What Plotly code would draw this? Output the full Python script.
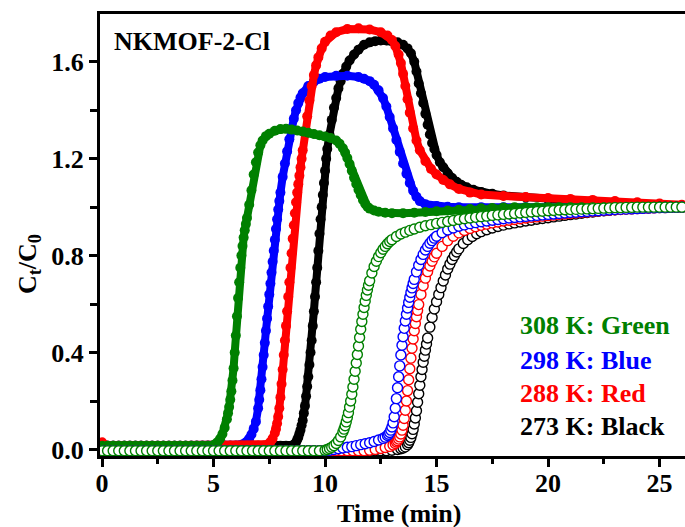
import plotly.graph_objects as go

# ---------------- data ----------------
# Filled circles (first breakthrough component, roll-up), time in min, C/C0
filled_308_t = [0, 0.25, 0.5, 0.75, 1.0, 1.25, 1.5, 1.75, 2.0, 2.25, 2.5, 2.75, 3.0, 3.25, 3.5, 3.75, 4.0, 4.25, 4.5, 4.75,
                5.0, 5.1, 5.2, 5.3, 5.4, 5.5, 5.6, 5.65, 5.7, 5.75, 5.8, 5.85, 5.9, 5.95, 6.0, 6.05, 6.1, 6.15, 6.2, 6.25, 6.3, 6.35, 6.4, 6.45, 6.5,
                6.6, 6.7, 6.8, 6.9, 7.0, 7.1, 7.2, 7.35, 7.5, 7.75,
                8.0, 8.25, 8.5, 8.75, 9.0, 9.25, 9.5, 9.75, 10.0, 10.25,
                10.5, 10.65, 10.8, 10.9, 11.0, 11.1, 11.2, 11.3, 11.4, 11.5,
                11.6, 11.7, 11.8, 11.9, 12.0, 12.2, 12.4, 12.7, 13.0, 13.5,
                14.0, 14.5, 15.0, 15.5, 16.0, 16.5, 17.0, 17.5, 18.0, 18.5,
                19.0, 19.5, 20.0, 20.5, 21.0, 21.5, 22.0, 22.5, 23.0, 23.5,
                24.0, 24.5, 25.0, 25.5, 26.0]
filled_308_c = [0.015, 0.015, 0.015, 0.015, 0.015, 0.015, 0.015, 0.015, 0.015, 0.015, 0.015, 0.015, 0.015, 0.015, 0.015, 0.015, 0.015, 0.015, 0.015, 0.015,
                0.018, 0.024, 0.032, 0.045, 0.064, 0.09, 0.125, 0.15, 0.175, 0.205, 0.24, 0.285, 0.335, 0.40, 0.47, 0.55, 0.625, 0.69, 0.75, 0.80, 0.84, 0.875, 0.905, 0.93, 0.955,
                1.01, 1.07, 1.135, 1.185, 1.225, 1.255, 1.275, 1.293, 1.303, 1.315,
                1.322, 1.323, 1.32, 1.316, 1.312, 1.307, 1.302, 1.297, 1.292, 1.285,
                1.275, 1.262, 1.243, 1.225, 1.203, 1.178, 1.15, 1.122, 1.096, 1.072,
                1.05, 1.03, 1.014, 1.002, 0.994, 0.986, 0.981, 0.977, 0.975, 0.975,
                0.977, 0.98, 0.983, 0.986, 0.989, 0.992, 0.995, 0.997, 0.999, 1.0,
                1.0, 1.0, 1.0, 1.0, 1.0, 1.0, 1.0, 1.0, 1.0, 1.0,
                1.0, 1.0, 1.0, 1.0, 1.0]

filled_298_t = [0, 0.25, 0.5, 0.75, 1.0, 1.25, 1.5, 1.75, 2.0, 2.25, 2.5, 2.75, 3.0, 3.25, 3.5, 3.75, 4.0, 4.25, 4.5, 4.75, 5.0, 5.25, 5.5, 5.75, 6.0,
                6.1, 6.2, 6.3, 6.4, 6.5, 6.6, 6.7, 6.8, 6.9, 7.0,
                7.05, 7.1, 7.15, 7.2, 7.25, 7.3, 7.35, 7.4, 7.45, 7.5,
                7.55, 7.6, 7.65, 7.7, 7.75, 7.8, 7.85, 7.9, 7.95, 8.0,
                8.1, 8.2, 8.3, 8.4, 8.5, 8.6, 8.7, 8.8, 8.9, 9.0,
                9.25, 9.5, 9.75, 10.0, 10.5, 11.0, 11.5, 11.75, 12.0, 12.2,
                12.4, 12.6, 12.75, 12.9, 13.05, 13.2, 13.35, 13.5, 13.65, 13.8,
                13.95, 14.1, 14.25, 14.5, 15.0, 15.5, 16.0, 17.0, 18.0, 19.0,
                20.0, 21.0, 22.0, 23.0, 24.0, 25.0, 26.0]
filled_298_c = [0.015, 0.015, 0.015, 0.015, 0.015, 0.015, 0.015, 0.015, 0.015, 0.015, 0.015, 0.015, 0.015, 0.015, 0.015, 0.015, 0.015, 0.015, 0.015, 0.015, 0.015, 0.015, 0.015, 0.015, 0.015,
                0.016, 0.018, 0.021, 0.026, 0.033, 0.045, 0.062, 0.085, 0.115, 0.17,
                0.205, 0.245, 0.29, 0.34, 0.39, 0.44, 0.49, 0.54, 0.59, 0.64,
                0.685, 0.73, 0.775, 0.82, 0.865, 0.91, 0.95, 0.99, 1.025, 1.06,
                1.125, 1.18, 1.23, 1.28, 1.325, 1.365, 1.40, 1.43, 1.452, 1.47,
                1.50, 1.518, 1.53, 1.537, 1.542, 1.542, 1.537, 1.53, 1.52, 1.505,
                1.482, 1.45, 1.415, 1.372, 1.325, 1.277, 1.228, 1.18, 1.138, 1.10,
                1.068, 1.043, 1.025, 1.012, 1.005, 1.002, 1.0, 1.0, 1.0, 1.0,
                1.0, 1.0, 1.0, 1.0, 1.0, 1.0, 1.0]

filled_288_t = [0, 0.25, 0.5, 0.75, 1.0, 1.25, 1.5, 1.75, 2.0, 2.25, 2.5, 2.75, 3.0, 3.25, 3.5, 3.75, 4.0, 4.25, 4.5, 4.75, 5.0, 5.25, 5.5, 5.75, 6.0, 6.25, 6.5, 6.75, 7.0, 7.25,
                7.35, 7.45, 7.55, 7.65, 7.75, 7.8, 7.85, 7.9, 7.95, 8.0,
                8.05, 8.1, 8.15, 8.2, 8.25, 8.3, 8.35, 8.4, 8.45, 8.5,
                8.55, 8.6, 8.65, 8.7, 8.75, 8.8, 8.85, 8.9, 8.95, 9.0,
                9.1, 9.2, 9.3, 9.4, 9.5, 9.6, 9.7, 9.85, 10.0, 10.25,
                10.5, 11.0, 11.5, 12.0, 12.5, 12.8, 13.0, 13.15, 13.3, 13.4,
                13.5, 13.6, 13.7, 13.8, 13.95, 14.1, 14.25, 14.5, 14.75, 15.0,
                15.3, 15.6, 16.0, 16.5, 17.0, 18.0, 19.0, 20.0, 21.0, 22.0,
                23.0, 24.0, 25.0, 26.0]
filled_288_c = [0.03, 0.015, 0.015, 0.015, 0.015, 0.015, 0.015, 0.015, 0.015, 0.015, 0.015, 0.015, 0.015, 0.015, 0.015, 0.015, 0.015, 0.015, 0.015, 0.015, 0.015, 0.015, 0.015, 0.015, 0.015, 0.015, 0.015, 0.015, 0.015, 0.015,
                0.017, 0.022, 0.031, 0.045, 0.068, 0.085, 0.107, 0.135, 0.17, 0.215,
                0.27, 0.33, 0.39, 0.45, 0.51, 0.57, 0.63, 0.69, 0.75, 0.81,
                0.87, 0.925, 0.975, 1.02, 1.06, 1.095, 1.13, 1.165, 1.20, 1.235,
                1.305, 1.375, 1.44, 1.50, 1.545, 1.585, 1.618, 1.655, 1.682, 1.708,
                1.722, 1.735, 1.738, 1.733, 1.722, 1.708, 1.69, 1.665, 1.63, 1.595,
                1.55, 1.50, 1.445, 1.39, 1.325, 1.275, 1.235, 1.19, 1.158, 1.135,
                1.112, 1.094, 1.075, 1.06, 1.052, 1.046, 1.042, 1.038, 1.034, 1.03,
                1.025, 1.02, 1.015, 1.01]

filled_273_t = [0, 0.25, 0.5, 0.75, 1.0, 1.25, 1.5, 1.75, 2.0, 2.25, 2.5, 2.75, 3.0, 3.25, 3.5, 3.75, 4.0, 4.25, 4.5, 4.75, 5.0, 5.25, 5.5, 5.75, 6.0, 6.25, 6.5, 6.75, 7.0, 7.25, 7.5, 7.75, 8.0, 8.25, 8.5,
                8.6, 8.7, 8.75, 8.8, 8.85, 8.9, 8.95, 9.0, 9.05, 9.1,
                9.15, 9.2, 9.25, 9.3, 9.35, 9.4, 9.45, 9.5, 9.55, 9.6,
                9.65, 9.7, 9.75, 9.8, 9.85, 9.9, 9.95, 10.0, 10.05, 10.1,
                10.2, 10.3, 10.4, 10.5, 10.6, 10.7, 10.8, 10.95, 11.1, 11.3,
                11.5, 11.75, 12.0, 12.25, 12.5, 12.75, 13.0, 13.25, 13.5, 13.7,
                13.85, 14.0, 14.1, 14.2, 14.3, 14.4, 14.5, 14.6, 14.7, 14.8,
                14.9, 15.0, 15.15, 15.3, 15.5, 15.7, 15.9, 16.1, 16.35, 16.65,
                17.0, 17.5, 18.0, 19.0, 20.0, 21.0, 22.0, 23.0, 24.0, 25.0,
                26.0]
filled_273_c = [0.015, 0.015, 0.015, 0.015, 0.015, 0.015, 0.015, 0.015, 0.015, 0.015, 0.015, 0.015, 0.015, 0.015, 0.015, 0.015, 0.015, 0.015, 0.015, 0.015, 0.015, 0.015, 0.015, 0.015, 0.015, 0.015, 0.015, 0.015, 0.015, 0.015, 0.015, 0.015, 0.015, 0.015, 0.015,
                0.02, 0.03, 0.04, 0.05, 0.065, 0.08, 0.10, 0.12, 0.15, 0.18,
                0.22, 0.26, 0.30, 0.35, 0.40, 0.45, 0.51, 0.57, 0.63, 0.69,
                0.75, 0.82, 0.89, 0.95, 1.00, 1.05, 1.10, 1.15, 1.20, 1.24,
                1.30, 1.36, 1.41, 1.45, 1.49, 1.52, 1.55, 1.58, 1.605, 1.63,
                1.65, 1.67, 1.68, 1.685, 1.688, 1.688, 1.685, 1.68, 1.67, 1.655,
                1.635, 1.60, 1.56, 1.51, 1.47, 1.43, 1.385, 1.34, 1.30, 1.265,
                1.24, 1.215, 1.185, 1.165, 1.14, 1.12, 1.105, 1.092, 1.082, 1.072,
                1.063, 1.055, 1.048, 1.04, 1.033, 1.028, 1.022, 1.017, 1.012, 1.008,
                1.005]

# Open circles (second component)
open_308_t = [0, 0.25, 0.5, 0.75, 1.0, 1.25, 1.5, 1.75, 2.0, 2.25, 2.5, 2.75, 3.0, 3.25, 3.5, 3.75, 4.0, 4.25, 4.5, 4.75,
              5.0, 5.25, 5.5, 5.75, 6.0, 6.25, 6.5, 6.75, 7.0, 7.25, 7.5, 7.75, 8.0, 8.25, 8.5, 8.75, 9.0, 9.25, 9.5, 9.75,
              10.0, 10.1, 10.2, 10.3, 10.4, 10.5, 10.6, 10.7, 10.8, 10.85,
              10.9, 10.95, 11.0, 11.05, 11.1, 11.15, 11.2, 11.25, 11.3, 11.35,
              11.4, 11.45, 11.5, 11.55, 11.6, 11.65, 11.7, 11.75, 11.8, 11.85,
              11.9, 11.95, 12.0, 12.1, 12.2, 12.3, 12.4, 12.5, 12.6, 12.7,
              12.8, 12.9, 13.0, 13.2, 13.4, 13.6, 13.8, 14.0, 14.25, 14.5,
              14.75, 15.0, 15.25, 15.5, 15.75, 16.0, 16.25, 16.5, 16.75, 17.0, 17.25, 17.5, 17.75, 18.0, 18.25, 18.5, 18.75, 19.0, 19.25, 19.5, 19.75, 20.0,
              20.25, 20.5, 20.75, 21.0, 21.25, 21.5, 21.75, 22.0, 22.25, 22.5, 22.75, 23.0, 23.25, 23.5, 23.75, 24.0, 24.25, 24.5, 24.75, 25.0, 25.25, 25.5, 25.75, 26.0]
open_308_c = [-0.005, -0.005, -0.005, -0.005, -0.005, -0.005, -0.005, -0.005, -0.005, -0.005, -0.005, -0.005, -0.005, -0.005, -0.005, -0.005, -0.005, -0.005, -0.005, -0.005,
              -0.005, -0.005, -0.005, -0.005, -0.005, -0.005, -0.005, -0.005, -0.005, -0.005, -0.005, -0.005, -0.005, -0.005, -0.005, -0.005, -0.005, -0.005, -0.005, -0.005,
              -0.003, 0.0, 0.004, 0.009, 0.016, 0.025, 0.037, 0.052, 0.072, 0.084,
              0.098, 0.114, 0.132, 0.152, 0.175, 0.20, 0.228, 0.258, 0.29, 0.323,
              0.357, 0.392, 0.427, 0.462, 0.496, 0.528, 0.558, 0.586, 0.612, 0.636,
              0.658, 0.678, 0.696, 0.728, 0.755, 0.777, 0.796, 0.812, 0.826, 0.838,
              0.849, 0.858, 0.866, 0.879, 0.889, 0.897, 0.904, 0.91, 0.917, 0.923,
              0.928, 0.933, 0.937, 0.941, 0.945, 0.949, 0.952, 0.955, 0.958, 0.961, 0.963, 0.966, 0.968, 0.97, 0.972, 0.974, 0.976, 0.978, 0.98, 0.982, 0.983, 0.985,
              0.986, 0.988, 0.989, 0.99, 0.991, 0.992, 0.993, 0.994, 0.995, 0.996, 0.997, 0.998, 0.998, 0.999, 0.999, 1.0, 1.0, 1.0, 1.0, 1.0, 1.0, 1.0, 1.0, 1.0]

open_298_t = [0, 0.25, 0.5, 0.75, 1.0, 1.25, 1.5, 1.75, 2.0, 2.25, 2.5, 2.75, 3.0, 3.25, 3.5, 3.75, 4.0, 4.25, 4.5, 4.75,
              5.0, 5.25, 5.5, 5.75, 6.0, 6.25, 6.5, 6.75, 7.0, 7.25, 7.5, 7.75, 8.0, 8.25, 8.5, 8.75, 9.0, 9.25, 9.5, 9.75, 10.0,
              10.2, 10.4, 10.6, 10.8, 11.0, 11.2, 11.4, 11.6, 11.8, 12.0,
              12.2, 12.4, 12.6, 12.7, 12.8, 12.85, 12.9, 12.95, 13.0, 13.05,
              13.1, 13.15, 13.2, 13.25, 13.3, 13.35, 13.4, 13.45, 13.5, 13.55,
              13.6, 13.65, 13.7, 13.75, 13.8, 13.85, 13.9, 13.95, 14.0, 14.1,
              14.2, 14.3, 14.4, 14.5, 14.6, 14.7, 14.8, 14.9, 15.0,
              15.25, 15.5, 15.75, 16.0, 16.25, 16.5, 16.75, 17.0, 17.25, 17.5, 17.75, 18.0, 18.25, 18.5, 18.75, 19.0, 19.25, 19.5, 19.75, 20.0,
              20.25, 20.5, 20.75, 21.0, 21.25, 21.5, 21.75, 22.0, 22.25, 22.5, 22.75, 23.0, 23.25, 23.5, 23.75, 24.0, 24.25, 24.5, 24.75, 25.0, 25.25, 25.5, 25.75, 26.0]
open_298_c = [-0.005, -0.005, -0.005, -0.005, -0.005, -0.005, -0.005, -0.005, -0.005, -0.005, -0.005, -0.005, -0.005, -0.005, -0.005, -0.005, -0.005, -0.005, -0.005, -0.005,
              -0.005, -0.005, -0.005, -0.005, -0.005, -0.005, -0.005, -0.005, -0.005, -0.005, -0.005, -0.005, -0.005, -0.005, -0.005, -0.005, -0.005, -0.005, -0.005, -0.005, -0.005,
              -0.003, 0.0, 0.003, 0.006, 0.009, 0.012, 0.016, 0.02, 0.024, 0.028,
              0.033, 0.039, 0.046, 0.051, 0.058, 0.063, 0.07, 0.08, 0.093, 0.11,
              0.135, 0.17, 0.21, 0.255, 0.30, 0.345, 0.39, 0.43, 0.465, 0.50,
              0.53, 0.558, 0.584, 0.607, 0.628, 0.648, 0.667, 0.685, 0.702, 0.733,
              0.76, 0.784, 0.805, 0.823, 0.838, 0.851, 0.862, 0.872, 0.88,
              0.895, 0.906, 0.914, 0.921, 0.927, 0.932, 0.936, 0.94, 0.943, 0.946, 0.949, 0.952, 0.955, 0.957, 0.96, 0.962, 0.964, 0.966, 0.968, 0.97,
              0.972, 0.974, 0.976, 0.978, 0.979, 0.981, 0.982, 0.984, 0.985, 0.987, 0.988, 0.99, 0.991, 0.992, 0.993, 0.994, 0.995, 0.996, 0.997, 0.998, 0.998, 0.999, 0.999, 1.0]

open_288_t = [0, 0.25, 0.5, 0.75, 1.0, 1.25, 1.5, 1.75, 2.0, 2.25, 2.5, 2.75, 3.0, 3.25, 3.5, 3.75, 4.0, 4.25, 4.5, 4.75,
              5.0, 5.25, 5.5, 5.75, 6.0, 6.25, 6.5, 6.75, 7.0, 7.25, 7.5, 7.75, 8.0, 8.25, 8.5, 8.75, 9.0, 9.25, 9.5, 9.75,
              10.0, 10.25, 10.5, 10.75, 11.0, 11.25, 11.5, 11.75, 12.0,
              12.25, 12.5, 12.7, 12.9, 13.05, 13.15, 13.2, 13.25, 13.3, 13.35,
              13.4, 13.45, 13.5, 13.55, 13.6, 13.65, 13.7, 13.75, 13.8, 13.85,
              13.9, 13.95, 14.0, 14.05, 14.1, 14.15, 14.2, 14.3, 14.4, 14.5,
              14.6, 14.7, 14.8, 14.9, 15.0,
              15.25, 15.5, 15.75, 16.0, 16.25, 16.5, 16.75, 17.0, 17.25, 17.5, 17.75, 18.0, 18.25, 18.5, 18.75, 19.0, 19.25, 19.5, 19.75, 20.0,
              20.25, 20.5, 20.75, 21.0, 21.25, 21.5, 21.75, 22.0, 22.25, 22.5, 22.75, 23.0, 23.25, 23.5, 23.75, 24.0, 24.25, 24.5, 24.75, 25.0, 25.25, 25.5, 25.75, 26.0]
open_288_c = [-0.005, -0.005, -0.005, -0.005, -0.005, -0.005, -0.005, -0.005, -0.005, -0.005, -0.005, -0.005, -0.005, -0.005, -0.005, -0.005, -0.005, -0.005, -0.005, -0.005,
              -0.005, -0.005, -0.005, -0.005, -0.005, -0.005, -0.005, -0.005, -0.005, -0.005, -0.005, -0.005, -0.005, -0.005, -0.005, -0.005, -0.005, -0.005, -0.005, -0.005,
              -0.005, -0.005, -0.005, -0.005, -0.005, -0.005, -0.005, -0.005, -0.003,
              0.0, 0.004, 0.008, 0.013, 0.019, 0.025, 0.031, 0.036, 0.043, 0.052,
              0.064, 0.08, 0.10, 0.128, 0.162, 0.20, 0.243, 0.288, 0.333, 0.377,
              0.418, 0.456, 0.49, 0.52, 0.548, 0.574, 0.598, 0.64, 0.676, 0.707,
              0.734, 0.757, 0.777, 0.795, 0.81,
              0.838, 0.862, 0.88, 0.894, 0.904, 0.912, 0.919, 0.925, 0.93, 0.935, 0.939, 0.943, 0.946, 0.949, 0.952, 0.955, 0.958, 0.96, 0.963, 0.965,
              0.967, 0.97, 0.972, 0.974, 0.976, 0.978, 0.98, 0.982, 0.984, 0.986, 0.987, 0.989, 0.99, 0.992, 0.993, 0.994, 0.995, 0.996, 0.997, 0.998, 0.998, 0.999, 0.999, 1.0]

open_273_t = [0, 0.25, 0.5, 0.75, 1.0, 1.25, 1.5, 1.75, 2.0, 2.25, 2.5, 2.75, 3.0, 3.25, 3.5, 3.75, 4.0, 4.25, 4.5, 4.75,
              5.0, 5.25, 5.5, 5.75, 6.0, 6.25, 6.5, 6.75, 7.0, 7.25, 7.5, 7.75, 8.0, 8.25, 8.5, 8.75, 9.0, 9.25, 9.5, 9.75,
              10.0, 10.25, 10.5, 10.75, 11.0, 11.25, 11.5, 11.75, 12.0, 12.25, 12.5, 12.75, 13.0, 13.25,
              13.4, 13.5, 13.6, 13.7, 13.75, 13.8, 13.85, 13.9, 13.95, 14.0,
              14.05, 14.1, 14.15, 14.2, 14.25, 14.3, 14.35, 14.4, 14.45, 14.5,
              14.55, 14.6, 14.7, 14.8, 14.9, 15.0, 15.1, 15.2, 15.3, 15.4,
              15.5, 15.6, 15.7, 15.8, 15.9, 16.0, 16.2, 16.4, 16.6, 16.8,
              17.0, 17.25, 17.5, 17.75, 18.0, 18.25, 18.5, 18.75, 19.0, 19.25, 19.5, 19.75, 20.0,
              20.25, 20.5, 20.75, 21.0, 21.25, 21.5, 21.75, 22.0, 22.25, 22.5, 22.75, 23.0, 23.25, 23.5, 23.75, 24.0, 24.25, 24.5, 24.75, 25.0, 25.25, 25.5, 25.75, 26.0]
open_273_c = [-0.005, -0.005, -0.005, -0.005, -0.005, -0.005, -0.005, -0.005, -0.005, -0.005, -0.005, -0.005, -0.005, -0.005, -0.005, -0.005, -0.005, -0.005, -0.005, -0.005,
              -0.005, -0.005, -0.005, -0.005, -0.005, -0.005, -0.005, -0.005, -0.005, -0.005, -0.005, -0.005, -0.005, -0.005, -0.005, -0.005, -0.005, -0.005, -0.005, -0.005,
              -0.005, -0.005, -0.005, -0.005, -0.005, -0.005, -0.005, -0.005, -0.005, -0.005, -0.005, -0.005, -0.003, 0.0,
              0.003, 0.006, 0.011, 0.02, 0.028, 0.038, 0.05, 0.065, 0.083, 0.105,
              0.13, 0.16, 0.195, 0.23, 0.265, 0.30, 0.33, 0.36, 0.385, 0.41,
              0.435, 0.46, 0.505, 0.545, 0.58, 0.61, 0.64, 0.668, 0.695, 0.72,
              0.745, 0.765, 0.784, 0.80, 0.815, 0.828, 0.85, 0.866, 0.879, 0.89,
              0.899, 0.907, 0.914, 0.92, 0.926, 0.931, 0.935, 0.939, 0.943, 0.946, 0.95, 0.953, 0.956,
              0.96, 0.963, 0.966, 0.969, 0.972, 0.975, 0.978, 0.98, 0.983, 0.985, 0.987, 0.989, 0.991, 0.993, 0.994, 0.996, 0.997, 0.998, 0.999, 1.0, 1.0, 1.0, 1.0, 1.0]

x_tick_values = [0, 5, 10, 15, 20, 25]
y_tick_values = [0.0, 0.4, 0.8, 1.2, 1.6]
y_tick_labels = ["0.0", "0.4", "0.8", "1.2", "1.6"]
legend_lines = ["308 K: Green", "298 K: Blue", "288 K: Red", "273 K: Black"]
sample_name = "NKMOF-2-Cl"

# ---------------- styling ----------------
GREEN, BLUE, RED, BLACK = "#008000", "#0000FF", "#FF0000", "#000000"
FONT = "Liberation Serif"
FS = 26
W, H = 685, 527
ML, MR, MT, MB = 100, 0, 14, 71

for a, b in [(filled_308_t, filled_308_c), (filled_298_t, filled_298_c), (filled_288_t, filled_288_c),
             (filled_273_t, filled_273_c), (open_308_t, open_308_c), (open_298_t, open_298_c),
             (open_288_t, open_288_c), (open_273_t, open_273_c)]:
    assert len(a) == len(b), (len(a), len(b))

fig = go.Figure()

filled = [(filled_273_t, filled_273_c, BLACK), (filled_298_t, filled_298_c, BLUE),
          (filled_288_t, filled_288_c, RED), (filled_308_t, filled_308_c, GREEN)]
for t, c, col in filled:
    fig.add_trace(go.Scatter(x=t, y=c, mode="lines+markers",
                             line=dict(color=col, width=8),
                             marker=dict(size=10, color=col),
                             showlegend=False, hoverinfo="skip"))

opened = [(open_273_t, open_273_c, BLACK), (open_288_t, open_288_c, RED),
          (open_298_t, open_298_c, BLUE), (open_308_t, open_308_c, GREEN)]
for t, c, col in opened:
    fig.add_trace(go.Scatter(x=t, y=c, mode="markers",
                             marker=dict(size=10, color="white", symbol="circle",
                                         line=dict(color=col, width=1.4)),
                             showlegend=False, hoverinfo="skip"))

def px_x(px):
    return (px - ML) / (W - ML - MR)

def px_y(py):
    return (H - MB - py) / (H - MT - MB)

tickfont = dict(family=FONT, size=FS, color="black", weight="bold")
fig.update_layout(
    width=W, height=H,
    margin=dict(l=ML, r=MR, t=MT, b=MB, pad=0),
    paper_bgcolor="white", plot_bgcolor="white",
    xaxis=dict(range=[-0.09, 26.14], showline=True, linecolor="black", linewidth=3, mirror=True,
               ticks="outside", ticklen=8, tickwidth=2.5, tickcolor="black",
               tickvals=x_tick_values, tickfont=tickfont, showgrid=False, zeroline=False,
               automargin=False, ticklabelstandoff=-6,
               minor=dict(dtick=2.5, tick0=0, ticks="outside", ticklen=5, tickwidth=2.5, tickcolor="black", showgrid=False)),
    yaxis=dict(range=[-0.0268, 1.797], showline=True, linecolor="black", linewidth=3, mirror=False,
               ticks="outside", ticklen=8, tickwidth=2.5, tickcolor="black",
               tickvals=y_tick_values, ticktext=y_tick_labels, tickfont=tickfont,
               showgrid=False, zeroline=False, automargin=False,
               minor=dict(dtick=0.2, tick0=0, ticks="outside", ticklen=7, tickwidth=2.5, tickcolor="black", showgrid=False)),
)

def ann_font(col):
    return dict(family=FONT, size=FS, color=col, weight="bold")

annotations = [
    dict(text=sample_name, x=px_x(112), y=px_y(41), xanchor="left", yanchor="middle", font=ann_font(BLACK)),
    dict(text="Time (min)", x=px_x(399), y=px_y(513), xanchor="center", yanchor="middle", font=ann_font(BLACK)),
    dict(text="C<sub>t</sub>/C<sub>0</sub>", x=px_x(29), y=px_y(264), xanchor="center", yanchor="middle",
         textangle=-90, font=ann_font(BLACK)),
]
for txt, col, py in zip(legend_lines, [GREEN, BLUE, RED, BLACK], [326, 360, 393, 426]):
    annotations.append(dict(text=txt, x=px_x(518), y=px_y(py), xanchor="left", yanchor="middle", font=ann_font(col)))
for a in annotations:
    a.update(xref="paper", yref="paper", showarrow=False)
fig.update_layout(annotations=annotations)

fig.write_html("out.html")
